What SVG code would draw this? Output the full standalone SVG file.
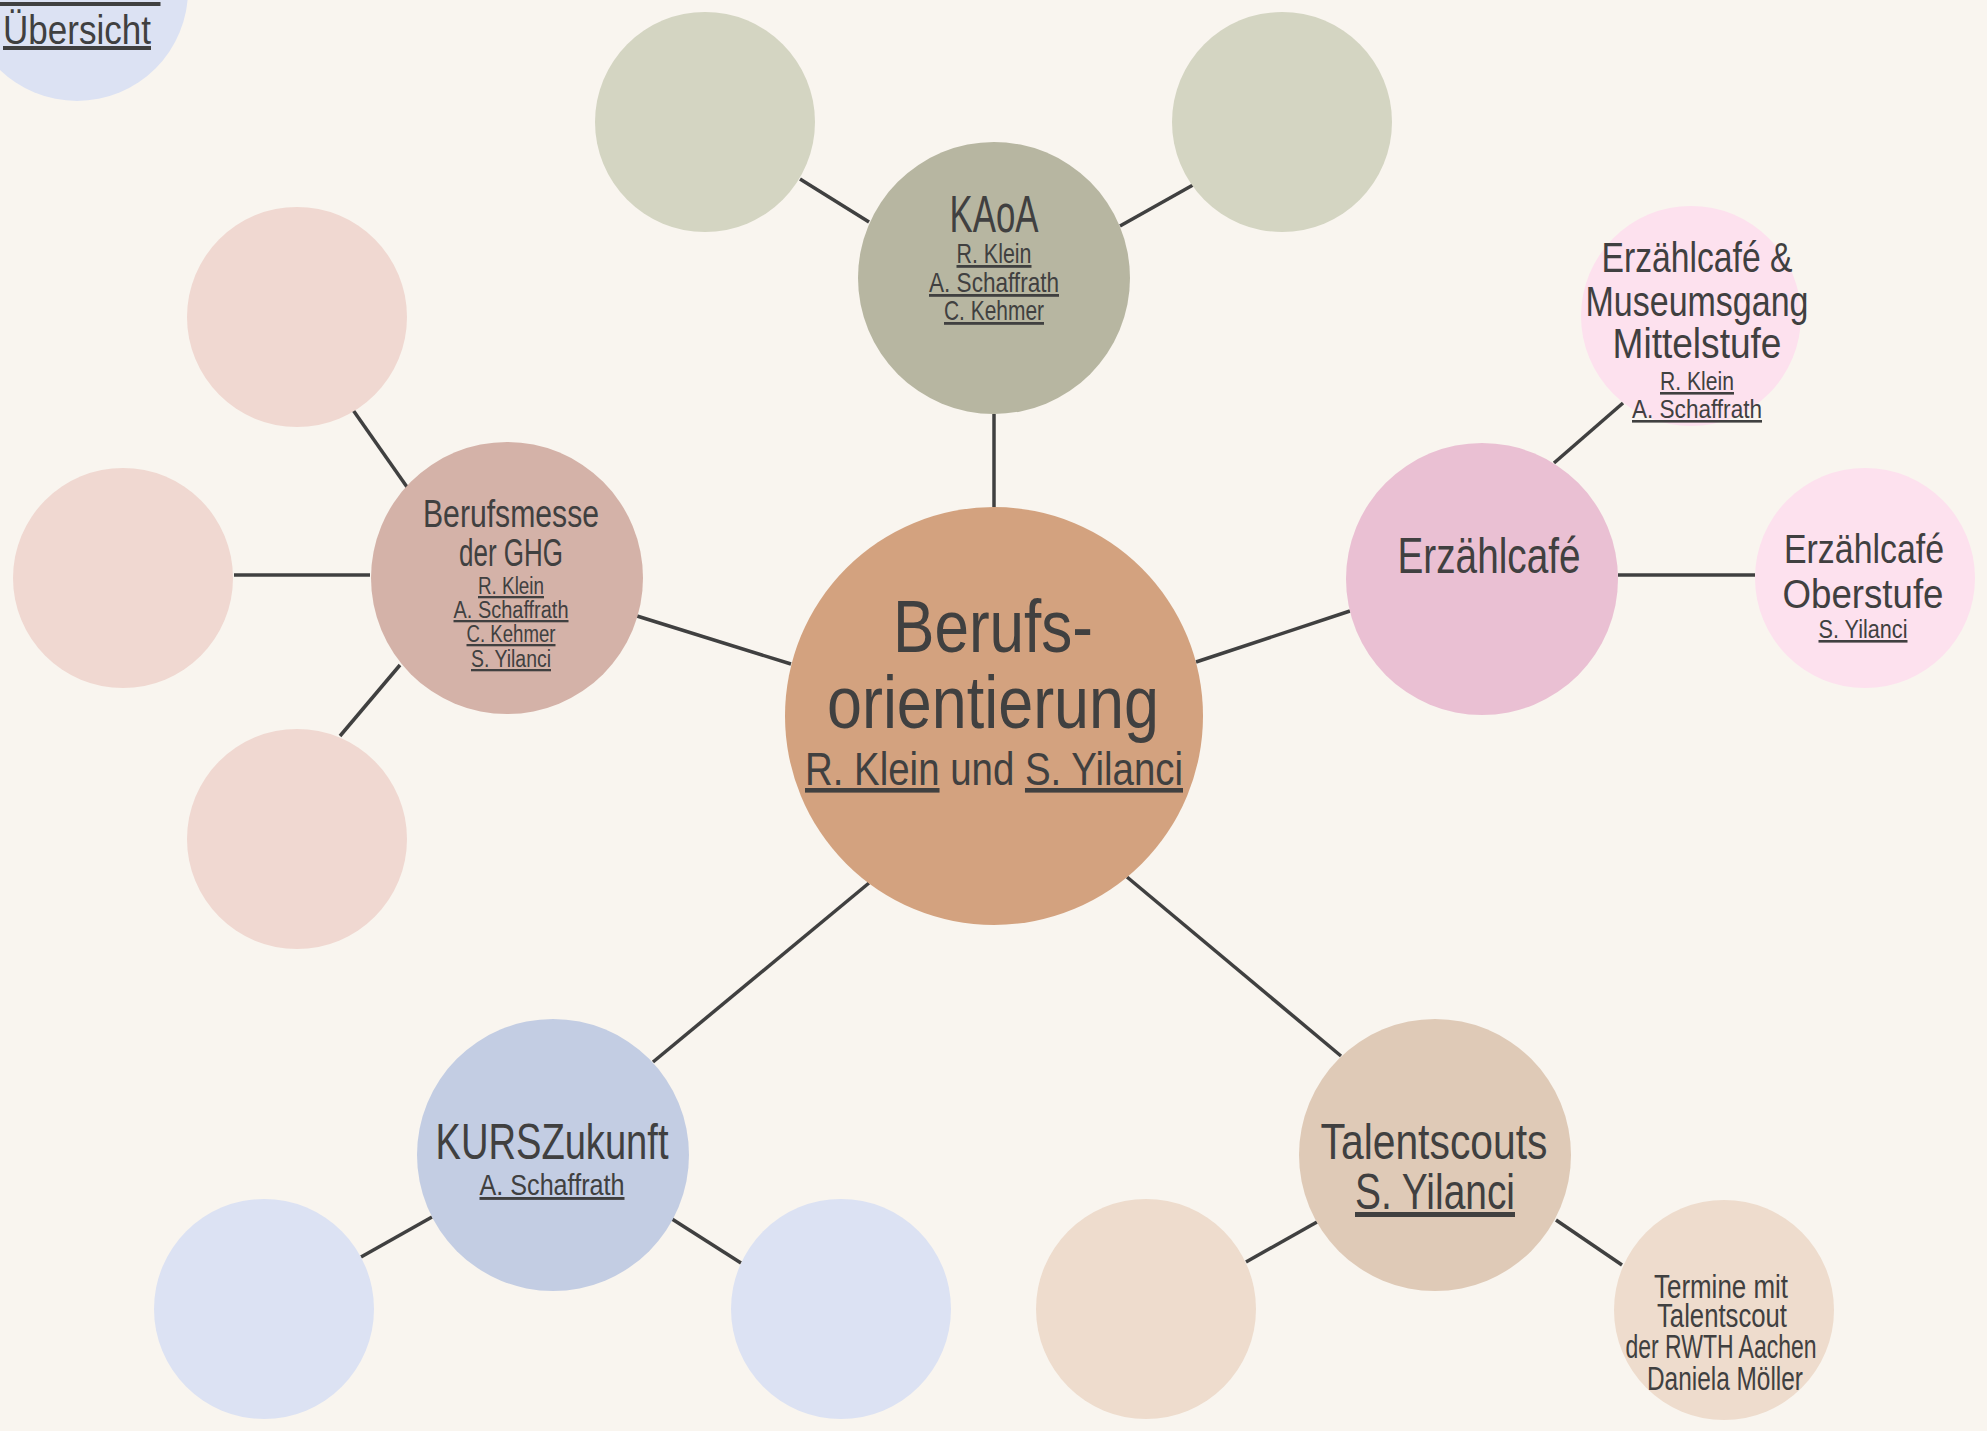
<svg xmlns="http://www.w3.org/2000/svg" width="1987" height="1431" viewBox="0 0 1987 1431">
<style>
text{font-family:"Liberation Sans",Arial,sans-serif;fill:#404040;text-anchor:middle}
.u{text-decoration:underline}
.c line{stroke:#404040;stroke-width:3.5}
</style>
<rect width="1987" height="1431" fill="#f9f5ef"/>
<g class="c" id="connectors">
<line x1="994" y1="414" x2="994" y2="507"/>
<line x1="800" y1="179" x2="869" y2="222"/>
<line x1="1120" y1="226" x2="1193" y2="185"/>
<line x1="637" y1="616" x2="791" y2="664"/>
<line x1="353" y1="410" x2="407" y2="487"/>
<line x1="234" y1="575" x2="370" y2="575"/>
<line x1="340" y1="736" x2="400" y2="665"/>
<line x1="1196" y1="662" x2="1350" y2="611"/>
<line x1="1554" y1="463" x2="1623" y2="403"/>
<line x1="1618" y1="575" x2="1755" y2="575"/>
<line x1="869" y1="883" x2="653" y2="1062"/>
<line x1="432" y1="1217" x2="361" y2="1257"/>
<line x1="672" y1="1219" x2="741" y2="1263"/>
<line x1="1127" y1="877" x2="1341" y2="1056"/>
<line x1="1317" y1="1222" x2="1246" y2="1262"/>
<line x1="1556" y1="1220" x2="1622" y2="1265"/>
</g>
<g id="uebersicht">
<circle cx="77" cy="-10" r="111" fill="#dce2f3"/>
<text x="78" y="0" font-size="40" class="u" textLength="165" lengthAdjust="spacingAndGlyphs">Zurück zur</text>
<text x="77" y="44" font-size="40" class="u" textLength="148" lengthAdjust="spacingAndGlyphs">Übersicht</text>
</g>
<g id="center">
<circle cx="994" cy="716" r="209" fill="#d3a27f"/>
<text x="993" y="652" font-size="74" textLength="200" lengthAdjust="spacingAndGlyphs">Berufs-</text>
<text x="993" y="728" font-size="74" textLength="332" lengthAdjust="spacingAndGlyphs">orientierung</text>
<text x="994" y="785" font-size="46" textLength="378" lengthAdjust="spacingAndGlyphs"><tspan class="u">R. Klein</tspan> und <tspan class="u">S. Yilanci</tspan></text>
</g>
<g id="kaoa">
<circle cx="994" cy="278" r="136" fill="#b7b6a1"/>
<text x="994" y="232" font-size="51" textLength="89" lengthAdjust="spacingAndGlyphs">KAoA</text>
<text x="994" y="263" font-size="28" class="u" textLength="75" lengthAdjust="spacingAndGlyphs">R. Klein</text>
<text x="994" y="292" font-size="28" class="u" textLength="130" lengthAdjust="spacingAndGlyphs">A. Schaffrath</text>
<text x="994" y="320" font-size="28" class="u" textLength="100" lengthAdjust="spacingAndGlyphs">C. Kehmer</text>
</g>
<g id="kaoa-left"><circle cx="705" cy="122" r="110" fill="#d4d5c2"/></g>
<g id="kaoa-right"><circle cx="1282" cy="122" r="110" fill="#d4d5c2"/></g>
<g id="berufsmesse">
<circle cx="507" cy="578" r="136" fill="#d4b2a8"/>
<text x="511" y="527" font-size="38" textLength="176" lengthAdjust="spacingAndGlyphs">Berufsmesse</text>
<text x="511" y="566" font-size="38" textLength="104" lengthAdjust="spacingAndGlyphs">der GHG</text>
<text x="511" y="594" font-size="23" class="u" textLength="66" lengthAdjust="spacingAndGlyphs">R. Klein</text>
<text x="511" y="618" font-size="23" class="u" textLength="115" lengthAdjust="spacingAndGlyphs">A. Schaffrath</text>
<text x="511" y="642" font-size="23" class="u" textLength="89" lengthAdjust="spacingAndGlyphs">C. Kehmer</text>
<text x="511" y="667" font-size="23" class="u" textLength="80" lengthAdjust="spacingAndGlyphs">S. Yilanci</text>
</g>
<g id="berufsmesse-top"><circle cx="297" cy="317" r="110" fill="#f0d8d1"/></g>
<g id="berufsmesse-left"><circle cx="123" cy="578" r="110" fill="#f0d8d1"/></g>
<g id="berufsmesse-bottom"><circle cx="297" cy="839" r="110" fill="#f0d8d1"/></g>
<g id="erzaehlcafe">
<circle cx="1482" cy="579" r="136" fill="#eac0d3"/>
<text x="1489" y="573" font-size="50" textLength="183" lengthAdjust="spacingAndGlyphs">Erzählcafé</text>
</g>
<g id="erzaehlcafe-mittelstufe">
<circle cx="1691" cy="316" r="110" fill="#fde1ee"/>
<text x="1697" y="272" font-size="42" textLength="191" lengthAdjust="spacingAndGlyphs">Erzählcafé &amp;</text>
<text x="1697" y="316" font-size="42" textLength="223" lengthAdjust="spacingAndGlyphs">Museumsgang</text>
<text x="1697" y="358" font-size="42" textLength="169" lengthAdjust="spacingAndGlyphs">Mittelstufe</text>
<text x="1697" y="390" font-size="26" class="u" textLength="74" lengthAdjust="spacingAndGlyphs">R. Klein</text>
<text x="1697" y="418" font-size="26" class="u" textLength="130" lengthAdjust="spacingAndGlyphs">A. Schaffrath</text>
</g>
<g id="erzaehlcafe-oberstufe">
<circle cx="1865" cy="578" r="110" fill="#fde1ee"/>
<text x="1864" y="563" font-size="41" textLength="160" lengthAdjust="spacingAndGlyphs">Erzählcafé</text>
<text x="1863" y="608" font-size="41" textLength="161" lengthAdjust="spacingAndGlyphs">Oberstufe</text>
<text x="1863" y="638" font-size="26" class="u" textLength="89" lengthAdjust="spacingAndGlyphs">S. Yilanci</text>
</g>
<g id="kurszukunft">
<circle cx="553" cy="1155" r="136" fill="#c3cde3"/>
<text x="552" y="1159" font-size="50" textLength="233" lengthAdjust="spacingAndGlyphs">KURSZukunft</text>
<text x="552" y="1195" font-size="29" class="u" textLength="145" lengthAdjust="spacingAndGlyphs">A. Schaffrath</text>
</g>
<g id="kurs-left"><circle cx="264" cy="1309" r="110" fill="#dce2f3"/></g>
<g id="kurs-right"><circle cx="841" cy="1309" r="110" fill="#dce2f3"/></g>
<g id="talentscouts">
<circle cx="1435" cy="1155" r="136" fill="#dfcab7"/>
<text x="1434" y="1159" font-size="50" textLength="227" lengthAdjust="spacingAndGlyphs">Talentscouts</text>
<text x="1435" y="1209" font-size="50" class="u" textLength="160" lengthAdjust="spacingAndGlyphs">S. Yilanci</text>
</g>
<g id="talent-left"><circle cx="1146" cy="1309" r="110" fill="#eedccd"/></g>
<g id="talent-termine">
<circle cx="1724" cy="1310" r="110" fill="#eedccd"/>
<text x="1721" y="1298" font-size="34" textLength="134" lengthAdjust="spacingAndGlyphs">Termine mit</text>
<text x="1722" y="1327" font-size="34" textLength="130" lengthAdjust="spacingAndGlyphs">Talentscout</text>
<text x="1721" y="1358" font-size="34" textLength="191" lengthAdjust="spacingAndGlyphs">der RWTH Aachen</text>
<text x="1725" y="1390" font-size="34" textLength="156" lengthAdjust="spacingAndGlyphs">Daniela Möller</text>
</g>
</svg>
